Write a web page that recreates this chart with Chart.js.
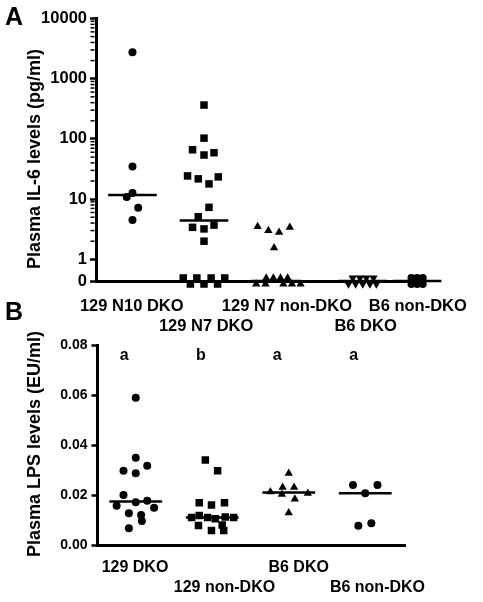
<!DOCTYPE html>
<html>
<head>
<meta charset="utf-8">
<title>Plasma IL-6 and LPS levels</title>
<script src="https://cdn.jsdelivr.net/npm/chart.js@4.4.1/dist/chart.umd.min.js"></script>
<style>
  html, body { margin: 0; padding: 0; background: #fff; }
  #wrap { position: relative; width: 483px; height: 602px; overflow: hidden; font-family: "Liberation Sans", Arial, Helvetica, sans-serif; }
  #wrap canvas { position: absolute; left: 0; }
  #chartA { top: 0; }
  #chartB { top: 325px; }
  .panel { position: absolute; left: 5px; font-weight: bold; font-size: 25px; line-height: 1; color: #000; }
</style>
</head>
<body>
<div id="wrap">
  <canvas id="chartA" width="483" height="340"></canvas>
  <canvas id="chartB" width="483" height="277"></canvas>
  <div class="panel" style="top: 4px;">A</div>
  <div class="panel" style="top: 299px;">B</div>
</div>
<script>
// Panel A - plasma IL-6 (pg/ml), log axis with a "0" row below 1
const groupsA = ['129 N10 DKO', '129 N7 DKO', '129 N7 non-DKO', 'B6 DKO', 'B6 non-DKO'];
const groupPosA = [1, 2, 3, 4.22, 4.98];
const labelPosA = [0.99, 2.03, 3.16, 4.26, 4.99];
const labelRowA = [0, 1, 0, 1, 0];
const yTicksA = [0, 1, 10, 100, 1000, 10000];

const il6N10DKO = [2760, 34.7, 12.6, 10.8, 7.2, 4.5];
const il6N10DKOdx = [0, 0, 0, -0.08, 0.08, 0];

const il6N7DKO = [365, 103, 66, 54, 59, 24.3, 21.7, 17.9, 23.4, 7.3, 5.1, 3.4, 3.2, 3.7, 2.0, 0, 0, 0, 0, 0, 0, 0];
const il6N7DKOdx = [0, 0, -0.16, 0, 0.14, -0.23, -0.08, 0.07, 0.2, 0.07, -0.08, -0.16, 0, 0.14, 0, -0.29, -0.19, -0.1, 0, 0.1, 0.19, 0.29];
const il6N7DKOzeroRow = [1, -1, 1, -1, 1, -1, 1];

const il6N7Non = [3.5, 3.0, 2.8, 3.4, 1.55, 0, 0, 0, 0, 0, 0, 0, 0, 0];
const il6N7Nondx = [-0.25, -0.1, 0.05, 0.2, -0.02, -0.27, -0.13, -0.14, -0.03, 0.11, 0.07, 0.23, 0.17, 0.35];
const il6N7NonzeroRow = [-1, 1, -1, 1, -1, 1, -1, 1, -1];

const il6B6DKO = [0, 0, 0, 0, 0, 0, 0, 0, 0];
const il6B6DKOdx = [-0.2, -0.14, -0.1, -0.04, 0, 0.05, 0.1, 0.15, 0.19];
const il6B6DKOzeroRow = [-1, 1, -1, 1, -1, 1, -1, 1, -1];

const il6B6Non = [0, 0, 0, 0, 0, 0];
const il6B6Nondx = [-0.08, -0.08, 0, 0, 0.08, 0.08];
const il6B6NonzeroRow = [1, -1, 1, -1, 1, -1];

// Panel B - plasma LPS (EU/ml)
const groupsB = ['129 DKO', '129 non-DKO', 'B6 DKO', 'B6 non-DKO'];
const labelPosB = [0.99, 2.16, 3.13, 4.16];
const labelRowB = [0, 1, 0, 1];
const sigLettersB = ['a', 'b', 'a', 'a'];

const lps129DKO = [0.0589, 0.0349, 0.0297, 0.0317, 0.0287, 0.0200, 0.0157, 0.0171, 0.0177, 0.0149, 0.0127, 0.0120, 0.0096, 0.0067];
const lps129DKOdx = [0, 0, -0.16, 0.15, 0, -0.16, -0.25, 0, 0.15, 0.24, -0.09, 0.07, 0.08, -0.09];

const lps129Non = [0.034, 0.0297, 0.0169, 0.016, 0.0169, 0.0110, 0.0118, 0.0110, 0.0105, 0.0112, 0.0110, 0.0078, 0.0080, 0.0058, 0.0058];
const lps129Nondx = [-0.09, 0.07, -0.17, -0.01, 0.16, -0.27, -0.17, -0.06, 0.04, 0.17, 0.28, -0.18, 0.13, -0.01, 0.15];

const lpsB6DKO = [0.0287, 0.0213, 0.0231, 0.0231, 0.0203, 0.0207, 0.0184, 0.0129];
const lpsB6DKOdx = [0, -0.24, -0.08, 0.07, -0.09, 0.25, 0.08, 0];

const lpsB6Non = [0.024, 0.024, 0.0207, 0.0077, 0.0087];
const lpsB6Nondx = [-0.16, 0.16, 0, -0.09, 0.08];

// the "0" row sits a bit under the 1 tick (in decades)
const ZERO_POS = -0.36;
const ZERO_STEP = 0.05;

Chart.defaults.font.family = '"Liberation Sans", Arial, Helvetica, sans-serif';
Chart.defaults.font.weight = 'bold';
Chart.defaults.color = '#000';

function toLog(v) {
  return v > 0 ? Math.log10(v) : ZERO_POS;
}

function median(arr) {
  const s = [...arr].sort((a, b) => a - b);
  const m = Math.floor(s.length / 2);
  return s.length % 2 ? s[m] : (s[m - 1] + s[m]) / 2;
}

function pointsA(values, dx, zeroRow, gi) {
  let z = 0;
  return values.map((v, i) => {
    let y = toLog(v);
    if (v === 0) y += ZERO_STEP * zeroRow[z++];
    return { x: groupPosA[gi] + dx[i], y: y };
  });
}

function pointsB(values, dx, gi) {
  return values.map((v, i) => ({ x: gi + 1 + dx[i], y: v }));
}

function marker(data, style, radius, rotation) {
  return {
    data: data,
    pointStyle: style,
    pointRadius: radius,
    pointRotation: rotation || 0,
    pointBackgroundColor: '#000',
    pointBorderColor: '#000',
    pointBorderWidth: 0,
    showLine: false,
    clip: false
  };
}

function medianLine(x, y, half) {
  return {
    data: [{ x: x - half, y: y }, { x: x + half, y: y }],
    showLine: true,
    borderColor: '#000',
    borderWidth: 2.5,
    pointRadius: 0,
    clip: false
  };
}

// rotated y-axis title
const sideTitle = {
  id: 'sideTitle',
  afterDraw(chart, args, opts) {
    const ctx = chart.ctx;
    ctx.save();
    ctx.translate(opts.x, opts.y);
    ctx.rotate(-Math.PI / 2);
    ctx.font = 'bold 18px "Liberation Sans", Arial, sans-serif';
    ctx.fillStyle = '#000';
    ctx.textAlign = 'center';
    ctx.textBaseline = 'middle';
    ctx.fillText(opts.text, 0, 0);
    ctx.restore();
  }
};

// short log minor ticks on the IL-6 axis
const minorTicks = {
  id: 'minorTicks',
  afterDraw(chart) {
    const y = chart.scales.y;
    const ctx = chart.ctx;
    ctx.save();
    ctx.strokeStyle = '#000';
    ctx.lineWidth = 1.5;
    for (let d = 0; d < 4; d++) {
      for (let k = 2; k <= 9; k++) {
        const py = y.getPixelForValue(d + Math.log10(k));
        ctx.beginPath();
        ctx.moveTo(y.right - 1.5, py);
        ctx.lineTo(y.right - 5.5, py);
        ctx.stroke();
      }
    }
    ctx.restore();
  }
};

// a / b letters over the LPS groups
const sigLetters = {
  id: 'sigLetters',
  afterDatasetsDraw(chart) {
    const ctx = chart.ctx;
    const xs = chart.scales.x;
    const ys = chart.scales.y;
    ctx.save();
    ctx.font = 'bold 16px "Liberation Sans", Arial, sans-serif';
    ctx.fillStyle = '#000';
    ctx.textAlign = 'center';
    ctx.textBaseline = 'alphabetic';
    sigLettersB.forEach((t, i) => {
      ctx.fillText(t, xs.getPixelForValue(i + 1 - 0.15), ys.getPixelForValue(0.074));
    });
    ctx.restore();
  }
};

// ---- Panel A ----
const seriesA = [
  [il6N10DKO, il6N10DKOdx, [], 'circle', 4, 0],
  [il6N7DKO, il6N7DKOdx, il6N7DKOzeroRow, 'rect', 5.3, 0],
  [il6N7Non, il6N7Nondx, il6N7NonzeroRow, 'triangle', 4.8, 0],
  [il6B6DKO, il6B6DKOdx, il6B6DKOzeroRow, 'triangle', 4.8, 180],
  [il6B6Non, il6B6Nondx, il6B6NonzeroRow, 'circle', 3.9, 0]
];
const datasetsA = [];
seriesA.forEach((s, gi) => {
  datasetsA.push(marker(pointsA(s[0], s[1], s[2], gi), s[3], s[4], s[5]));
  datasetsA.push(medianLine(groupPosA[gi], toLog(median(s[0])), 0.34));
});

const yTickValsA = yTicksA.map(toLog);

new Chart(document.getElementById('chartA'), {
  type: 'scatter',
  data: { datasets: datasetsA },
  options: {
    responsive: false,
    animation: false,
    devicePixelRatio: 1,
    events: [],
    layout: { padding: { top: 18.5, right: 48, bottom: 0, left: 0 } },
    plugins: {
      legend: { display: false },
      tooltip: { enabled: false },
      sideTitle: { text: 'Plasma IL-6 levels (pg/ml)', x: 35, y: 159 }
    },
    scales: {
      x: {
        type: 'linear',
        min: 0.49,
        max: 5.1,
        afterFit(scale) { scale.height = 59; },
        afterBuildTicks(scale) { scale.ticks = labelPosA.map(v => ({ value: v })); },
        grid: { display: false, drawTicks: false },
        border: { display: true, color: '#000', width: 3 },
        ticks: {
          autoSkip: false,
          maxRotation: 0,
          minRotation: 0,
          padding: 15,
          font: { size: 16.5, weight: 'bold', lineHeight: 1.25 },
          callback: (v, i) => labelRowA[i] ? ['', groupsA[i]] : groupsA[i]
        }
      },
      y: {
        type: 'linear',
        min: ZERO_POS,
        max: 4,
        afterFit(scale) { scale.width = 96; },
        afterBuildTicks(scale) { scale.ticks = yTickValsA.map(v => ({ value: v })); },
        grid: { display: true, drawOnChartArea: false, drawTicks: true, tickLength: 6, tickWidth: 2.5, color: '#000', tickColor: '#000' },
        border: { display: true, color: '#000', width: 3 },
        ticks: {
          padding: 3,
          font: { size: 16.5, weight: 'bold' },
          callback: (v, i) => String(yTicksA[i])
        }
      }
    }
  },
  plugins: [minorTicks, sideTitle]
});

// ---- Panel B ----
const seriesB = [
  [lps129DKO, lps129DKOdx, 'circle', 4, 0],
  [lps129Non, lps129Nondx, 'rect', 5.3, 0],
  [lpsB6DKO, lpsB6DKOdx, 'triangle', 4.8, 0],
  [lpsB6Non, lpsB6Nondx, 'circle', 4, 0]
];
const datasetsB = [];
seriesB.forEach((s, gi) => {
  datasetsB.push(marker(pointsB(s[0], s[1], gi), s[2], s[3], s[4]));
  datasetsB.push(medianLine(gi + 1, median(s[0]), 0.345));
});

new Chart(document.getElementById('chartB'), {
  type: 'scatter',
  data: { datasets: datasetsB },
  options: {
    responsive: false,
    animation: false,
    devicePixelRatio: 1,
    events: [],
    layout: { padding: { top: 20, right: 78, bottom: 0, left: 0 } },
    plugins: {
      legend: { display: false },
      tooltip: { enabled: false },
      sideTitle: { text: 'Plasma LPS levels (EU/ml)', x: 35, y: 119 }
    },
    scales: {
      x: {
        type: 'linear',
        min: 0.5,
        max: 4.52,
        afterFit(scale) { scale.height = 57; },
        afterBuildTicks(scale) { scale.ticks = labelPosB.map(v => ({ value: v })); },
        grid: { display: false, drawTicks: false },
        border: { display: true, color: '#000', width: 3 },
        ticks: {
          autoSkip: false,
          maxRotation: 0,
          minRotation: 0,
          padding: 13,
          font: { size: 16, weight: 'bold', lineHeight: 1.25 },
          callback: (v, i) => labelRowB[i] ? ['', groupsB[i]] : groupsB[i]
        }
      },
      y: {
        type: 'linear',
        min: 0,
        max: 0.08,
        afterFit(scale) { scale.width = 97.5; },
        grid: { display: true, drawOnChartArea: false, drawTicks: true, tickLength: 6, tickWidth: 2.5, color: '#000', tickColor: '#000' },
        border: { display: true, color: '#000', width: 3 },
        ticks: {
          stepSize: 0.02,
          padding: 4,
          font: { size: 14, weight: 'bold' },
          callback: v => v.toFixed(2)
        }
      }
    }
  },
  plugins: [sideTitle, sigLetters]
});
</script>
</body>
</html>
